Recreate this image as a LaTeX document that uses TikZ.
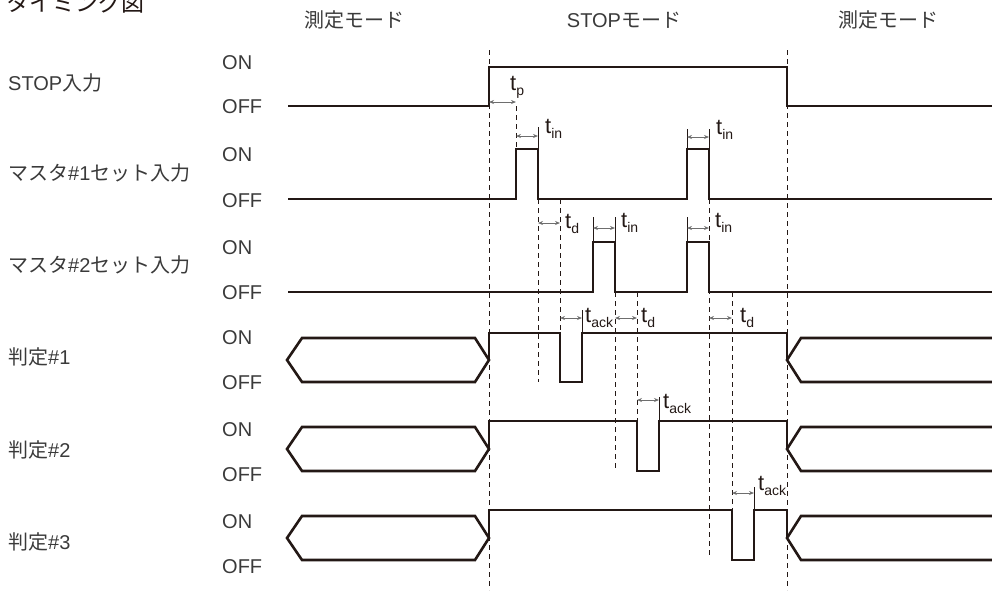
\documentclass[tikz,border=0pt]{standalone}
\usepackage{fontspec}
\setmainfont{Liberation Sans}
\newfontfamily\jp{Noto Sans CJK JP}
\usetikzlibrary{arrows.meta}
\definecolor{sig}{HTML}{231815}
\definecolor{txt}{HTML}{3A3A3A}
\definecolor{arr}{HTML}{6E6E6E}
\tikzset{
  sigline/.style={line width=2.6pt, draw=sig, line join=miter},
  guide/.style={line width=0.9pt, draw=sig, dash pattern=on 5pt off 4pt},
  vtick/.style={line width=0.9pt, draw=sig},
  dim/.style={line width=0.8pt, draw=arr, {Stealth[length=5pt,width=4pt]}-{Stealth[length=5pt,width=4pt]}},
  lbl/.style={font=\fontsize{20}{20}\selectfont, text=txt, inner sep=0pt},
  tlab/.style={inner sep=0pt, anchor=base west, text=sig},
}
\newcommand{\tsub}[1]{{\fontsize{22}{22}\selectfont t}{\fontsize{14}{14}\selectfont\raisebox{-5pt}{#1}}}
\begin{document}
\begin{tikzpicture}[x=1pt,y=-1pt]
\useasboundingbox (0,0) rectangle (992,590);
% title (cut off at top, as in the reference)
\node[inner sep=0pt, anchor=base west, text=sig, font=\fontsize{23}{23}\selectfont\jp] (title) at (6,11) {タイミング図};
% mode headers
\node[lbl] (h1) at (354,20) {\jp 測定モード};
\node[lbl] (h2) at (624,20) {STOP{\jp モード}};
\node[lbl] (h3) at (888,20) {\jp 測定モード};
% row labels
\node[lbl, anchor=west] (r1) at (8,83) {STOP{\jp 入力}};
\node[lbl, anchor=west] (r2) at (8,173) {{\jp マスタ}\#1{\jp セット入力}};
\node[lbl, anchor=west] (r3) at (8,265) {{\jp マスタ}\#2{\jp セット入力}};
\node[lbl, anchor=west] (r4) at (8,357) {{\jp 判定}\#1};
\node[lbl, anchor=west] (r5) at (8,450) {{\jp 判定}\#2};
\node[lbl, anchor=west] (r6) at (8,542) {{\jp 判定}\#3};
% ON / OFF
\foreach \n/\yon/\yoff in {1/63/107, 2/155/201, 3/248/293, 4/338/383, 5/430/475, 6/522/567}{
  \node[lbl, anchor=west] (on\n) at (222,\yon) {ON};
  \node[lbl, anchor=west] (off\n) at (222,\yoff) {OFF};
}
% guide dashed lines
\draw[guide] (489,50) -- (489,590);
\draw[guide] (787,50) -- (787,590);
\draw[guide] (516,106) -- (516,149);
\draw[guide] (538,199) -- (538,382);
\draw[guide] (560,199) -- (560,333);
\draw[guide] (615,292) -- (615,471);
\draw[guide] (637,292) -- (637,421);
\draw[guide] (709,199) -- (709,556);
\draw[guide] (732,292) -- (732,510);
% signals
\draw[sigline] (288,106) -- (489,106) -- (489,67) -- (787,67) -- (787,106) -- (992,106);
\draw[sigline] (288,199) -- (516,199) -- (516,149) -- (538,149) -- (538,199) -- (687,199) -- (687,149) -- (709,149) -- (709,199) -- (992,199);
\draw[sigline] (288,292) -- (593,292) -- (593,242) -- (615,242) -- (615,292) -- (687,292) -- (687,242) -- (709,242) -- (709,292) -- (992,292);
% judge #1
\draw[sigline] (287,360) -- (302,338) -- (475,338) -- (489,360) -- (475,382) -- (302,382) -- cycle;
\draw[sigline] (489,360) -- (489,333) -- (560,333) -- (560,382) -- (582,382) -- (582,333) -- (787,333) -- (787,360);
\draw[sigline] (992,338) -- (801,338) -- (787,360) -- (801,382) -- (992,382);
% judge #2
\draw[sigline] (287,449) -- (302,427) -- (475,427) -- (489,449) -- (475,471) -- (302,471) -- cycle;
\draw[sigline] (489,449) -- (489,421) -- (637,421) -- (637,471) -- (659,471) -- (659,421) -- (787,421) -- (787,449);
\draw[sigline] (992,427) -- (801,427) -- (787,449) -- (801,471) -- (992,471);
% judge #3
\draw[sigline] (287,538) -- (302,516) -- (475,516) -- (489,538) -- (475,560) -- (302,560) -- cycle;
\draw[sigline] (489,538) -- (489,510) -- (732,510) -- (732,560) -- (754,560) -- (754,510) -- (787,510) -- (787,538);
\draw[sigline] (992,516) -- (801,516) -- (787,538) -- (801,560) -- (992,560);
% solid ticks
\draw[vtick] (538,127) -- (538,149);
\draw[vtick] (687,129) -- (687,149);
\draw[vtick] (709,129) -- (709,149);
\draw[vtick] (593,217) -- (593,242);
\draw[vtick] (615,217) -- (615,242);
\draw[vtick] (687,217) -- (687,242);
\draw[vtick] (582,310) -- (582,333);
\draw[vtick] (659,397) -- (659,421);
\draw[vtick] (754,487) -- (754,510);
% dimension arrows
\draw[dim] (489,102) -- (516,102);
\draw[dim] (516,136) -- (538,136);
\draw[dim] (687,137) -- (709,137);
\draw[dim] (538,223) -- (560,223);
\draw[dim] (593,228) -- (615,228);
\draw[dim] (687,228) -- (709,228);
\draw[dim] (560,318) -- (582,318);
\draw[dim] (615,318) -- (637,318);
\draw[dim] (709,318) -- (732,318);
\draw[dim] (637,400) -- (659,400);
\draw[dim] (732,493) -- (754,493);
% time labels
\node[tlab] (tp) at (510,90) {\tsub{p}};
\node[tlab] (tin1) at (545,133) {\tsub{in}};
\node[tlab] (tin2) at (716,134) {\tsub{in}};
\node[tlab] (td1) at (565,228) {\tsub{d}};
\node[tlab] (tin3) at (621,227) {\tsub{in}};
\node[tlab] (tin4) at (715,227) {\tsub{in}};
\node[tlab] (tack1) at (585,322) {\tsub{ack}};
\node[tlab] (td2) at (641,322) {\tsub{d}};
\node[tlab] (td3) at (740,322) {\tsub{d}};
\node[tlab] (tack2) at (663,408) {\tsub{ack}};
\node[tlab] (tack3) at (758,490) {\tsub{ack}};
\end{tikzpicture}
\end{document}
